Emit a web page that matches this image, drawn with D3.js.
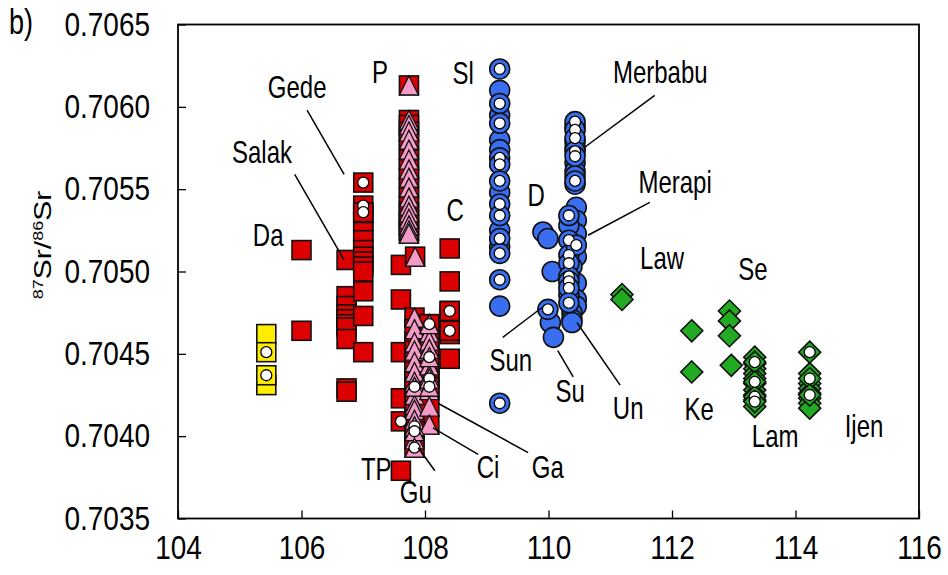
<!DOCTYPE html>
<html>
<head>
<meta charset="utf-8">
<script src="https://cdn.jsdelivr.net/npm/d3@7"></script>
<style>
  body { margin: 0; background: #fff; }
  text { font-family: "Liberation Sans", Arial, sans-serif; fill: #000; }
</style>
</head>
<body>
<div id="main"></div>
<script>
// West Java - yellow and red squares
const yellowPlain = [[105.43,0.70462],[105.43,0.70431]];
const yellowDot = [[105.43,0.70451],[105.43,0.70437]];

const redPlain = [
  [106.0,0.70513],[106.0,0.70464],
  [106.73,0.70507],[106.73,0.70485],[106.73,0.70479],[106.73,0.70474],[106.73,0.70471],
  [106.73,0.70468],[106.73,0.70466],[106.73,0.70459],[106.73,0.70429],[106.73,0.70427],
  [107.0,0.70535],[107.0,0.70530],[107.0,0.70524],[107.0,0.70519],[107.0,0.70513],[107.0,0.70509],
  [107.0,0.70506],[107.0,0.70503],[107.0,0.70500],[107.0,0.70488],[107.0,0.70473],[107.0,0.70451],
  [107.61,0.70504],[107.61,0.70483],[107.61,0.70451],[107.61,0.70423],[107.61,0.70379],
  [108.4,0.70514],[108.4,0.70494],[108.4,0.70476],[108.4,0.70473],[108.4,0.70468],[108.4,0.70462],[108.4,0.70447]
];
const redDot = [
  [107.0,0.70554],[107.0,0.70540],[107.0,0.70536],
  [107.61,0.70409],
  [108.4,0.70476],[108.4,0.70464]
];

// square + pink triangle
const triPlain = [
  [107.74,0.70613],[107.74,0.70592],[107.74,0.70589],[107.74,0.70585],[107.74,0.70580],[107.74,0.70574],
  [107.74,0.70568],[107.74,0.70562],[107.74,0.70557],[107.74,0.70551],[107.74,0.70545],[107.74,0.70540],
  [107.74,0.70536],[107.74,0.70532],[107.74,0.70528],[107.74,0.70525],[107.74,0.70523],
  [107.84,0.70509],
  [107.83,0.70472],[107.83,0.70465],[107.83,0.70457],[107.83,0.70452],[107.83,0.70445],[107.83,0.70439],
  [107.83,0.70433],[107.83,0.70425],[107.83,0.70419],[107.83,0.70416],[107.83,0.70410],[107.83,0.70404],[107.83,0.70398],
  [108.07,0.70468],[108.07,0.70463],[108.07,0.70458],[108.07,0.70453],[108.07,0.70443],[108.07,0.70437],
  [108.07,0.70428],[108.07,0.70418],[108.07,0.70407]
];
const triDot = [
  [107.83,0.70430],[107.83,0.70406],[107.83,0.70403],[107.83,0.70393],
  [108.07,0.70468],[108.07,0.70448],[108.07,0.70435],[108.07,0.70430]
];

// Central Java - blue circles
const bluePlain = [
  [109.21,0.70610],[109.21,0.70595],[109.21,0.70580],[109.21,0.70574],[109.21,0.70548],[109.21,0.70525],
  [109.21,0.70515],[109.21,0.70479],
  [110.43,0.70588],[110.43,0.70579],[110.43,0.70575],[110.43,0.70566],[110.43,0.70561],[110.43,0.70558],[110.43,0.70553],
  [110.45,0.70539],[110.45,0.70531],[110.45,0.70523],[110.45,0.70509],[110.45,0.70493],[110.45,0.70483],[110.45,0.70479],
  [110.33,0.70528],[110.33,0.70486],
  [110.38,0.70503],[110.38,0.70475],[110.38,0.70471],[110.38,0.70469],
  [109.91,0.70524],[109.99,0.70520],[110.06,0.70500],
  [110.03,0.70469],[110.08,0.70460]
];
const blueDot = [
  [109.21,0.70623],[109.21,0.70602],[109.21,0.70590],[109.21,0.70569],[109.21,0.70565],[109.21,0.70555],
  [109.21,0.70541],[109.21,0.70534],[109.21,0.70520],[109.21,0.70511],[109.21,0.70495],[109.21,0.70420],
  [110.43,0.70591],[110.43,0.70586],[110.43,0.70581],[110.43,0.70573],[110.43,0.70570],[110.43,0.70555],
  [110.33,0.70534],[110.33,0.70519],[110.33,0.70510],[110.33,0.70505],[110.33,0.70497],[110.33,0.70494],
  [110.33,0.70490],[110.33,0.70481],[110.45,0.70516],
  [109.99,0.70477]
];

// East Java - green diamonds
const greenPlain = [
  [111.19,0.70486],[111.19,0.70483],
  [112.32,0.70464],[112.32,0.70439],
  [112.93,0.70476],[112.93,0.70470],[112.93,0.70461],[112.96,0.70443],
  [113.34,0.70448],[113.34,0.70444],[113.34,0.70441],[113.34,0.70438],[113.34,0.70435],[113.34,0.70432],
  [113.34,0.70428],[113.34,0.70425],[113.34,0.70422],[113.34,0.70418],
  [114.23,0.70438],[114.23,0.70432],[114.23,0.70429],[114.23,0.70426],[114.23,0.70423],[114.23,0.70420],[114.23,0.70417]
];
const greenDot = [
  [113.34,0.70445],[113.34,0.70433],[113.34,0.70424],[113.34,0.70421],
  [114.23,0.70451],[114.23,0.70435],[114.23,0.70425]
];

const xTicks = [104,106,108,110,112,114,116];
const yTicks = [0.7035,0.7040,0.7045,0.7050,0.7055,0.7060,0.7065];

const labelNames = ["Gede","Salak","Da","P","Sl","C","D","TP","Gu","Ci","Ga","Sun","Su","Un","Ke","Lam","Ijen","Law","Se","Merbabu","Merapi"];
const labelLon = [105.93,105.36,105.46,107.27,108.62,108.49,109.80,107.21,107.85,109.02,109.99,109.39,110.35,111.29,112.44,113.67,115.11,111.84,113.31,111.81,112.05];
const labelSr = [0.70612,0.70572,0.70522,0.70621,0.70620,0.70537,0.70546,0.70380,0.70366,0.70381,0.70381,0.70446,0.70427,0.70417,0.70416,0.70400,0.70406,0.70508,0.70501,0.70621,0.70554];

// leader lines [lon1, sr1, lon2, sr2]
const leaders = [
  [106.09,0.70598,106.69,0.70559],
  [105.89,0.70559,106.69,0.70507],
  [111.72,0.70607,110.57,0.70575],
  [111.64,0.70542,110.64,0.70522],
  [109.26,0.70460,109.89,0.70478],
  [110.40,0.70436,110.15,0.70452],
  [111.16,0.70431,110.46,0.70469],
  [109.67,0.70390,108.21,0.70420],
  [108.86,0.70389,108.13,0.70405],
  [108.16,0.70379,107.89,0.70393]
];

const w = 948, h = 575;
const padL = 178, padR = 919, padT = 24.5, padB = 518.5;
const stretch = 1.27;   // text in the figure is taller than wide

const xScale = d3.scaleLinear().domain([104,116]).range([padL,padR]);
const yScale = d3.scaleLinear().domain([0.7035,0.7065]).range([padB,padT]);

const svg = d3.select("#main").append("svg")
  .attr("width",w).attr("height",h);

// markers
const S = 19;   // square side
const R = 10;   // circle radius
const D = 11;   // diamond half diagonal
const dotR = 5.5;

const pos = d => "translate(" + xScale(d[0]) + "," + yScale(d[1]) + ")";

function dots(data) {
  svg.append("g").selectAll("circle").data(data).enter().append("circle")
    .attr("transform",pos).attr("r",dotR)
    .attr("fill","#fff").attr("stroke","#000").attr("stroke-width",1.3);
}

function squares(data, color) {
  svg.append("g").selectAll("rect").data(data).enter().append("rect")
    .attr("transform",pos)
    .attr("x",-S/2).attr("y",-S/2).attr("width",S).attr("height",S)
    .attr("fill",color).attr("stroke","#111").attr("stroke-width",1.6);
}

function triangles(data) {
  svg.append("g").selectAll("path").data(data).enter().append("path")
    .attr("transform",pos)
    .attr("d","M0,"+(-S/2)+"L"+(S/2)+","+(S/2)+"L"+(-S/2)+","+(S/2)+"Z")
    .attr("fill","#f59bc8").attr("stroke","#111").attr("stroke-width",1.3);
}

function circles(data) {
  svg.append("g").selectAll("circle").data(data).enter().append("circle")
    .attr("transform",pos).attr("r",R)
    .attr("fill","#3a6ef0").attr("stroke","#111").attr("stroke-width",1.6);
}

function diamonds(data) {
  svg.append("g").selectAll("path").data(data).enter().append("path")
    .attr("transform",pos)
    .attr("d","M0,"+(-D)+"L"+D+",0L0,"+D+"L"+(-D)+",0Z")
    .attr("fill","#22aa22").attr("stroke","#111").attr("stroke-width",1.6);
}

squares(yellowPlain.concat(yellowDot),"#ffee00");
dots(yellowDot);
squares(redPlain.concat(redDot),"#dd0000");
squares(triPlain.concat(triDot),"#dd0000");
triangles(triPlain.concat(triDot));
dots(redDot.concat(triDot));
circles(bluePlain.concat(blueDot));
dots(blueDot);
diamonds(greenPlain.concat(greenDot));
dots(greenDot);

// leader lines
svg.selectAll("line.leader").data(leaders).enter().append("line")
  .attr("class","leader")
  .attr("x1",d => xScale(d[0])).attr("y1",d => yScale(d[1]))
  .attr("x2",d => xScale(d[2])).attr("y2",d => yScale(d[3]))
  .attr("stroke","#000").attr("stroke-width",1.5);

// labels
svg.selectAll("text.lab").data(labelNames).enter().append("text")
  .attr("class","lab")
  .attr("transform",(d,i) => "translate(" + xScale(labelLon[i]) + "," + yScale(labelSr[i]) + ") scale(1," + stretch + ")")
  .attr("text-anchor","middle")
  .attr("dominant-baseline","central")
  .style("font-size","24px")
  .text(d => d);

// axes
const xAxis = d3.axisBottom(xScale).tickValues(xTicks).tickSize(-8).tickPadding(14).tickFormat(d3.format("d"));
const yAxis = d3.axisLeft(yScale).tickValues(yTicks).tickSize(-8).tickPadding(28).tickFormat(d3.format(".4f"));

svg.append("g").attr("transform","translate(0,"+padB+")").call(xAxis)
  .call(g => g.select(".domain").remove())
  .selectAll("text").style("font-size","28px").attr("dy","0.71em")
  .attr("transform","scale(1,1.2)");
svg.append("g").attr("transform","translate("+padL+",0)").call(yAxis)
  .call(g => g.select(".domain").remove())
  .selectAll("text").style("font-size","28px").attr("transform","scale(1,1.2)");
svg.selectAll(".tick line").attr("stroke","#000").attr("stroke-width",1.3);

// frame
svg.append("rect").attr("x",padL).attr("y",padT).attr("width",padR-padL).attr("height",padB-padT)
  .attr("fill","none").attr("stroke","#000").attr("stroke-width",1.8);

// y title
const yt = svg.append("text")
  .attr("transform","translate(51,245) rotate(-90) scale(1,0.8)")
  .attr("text-anchor","middle")
  .style("font-size","30px");
yt.append("tspan").attr("baseline-shift","super").style("font-size","18px").text("87");
yt.append("tspan").text("Sr/");
yt.append("tspan").attr("baseline-shift","super").style("font-size","18px").text("86");
yt.append("tspan").text("Sr");

svg.append("text").attr("transform","translate(9,34) scale(1," + stretch + ")")
  .style("font-size","27px").text("b)");
</script>
</body>
</html>
